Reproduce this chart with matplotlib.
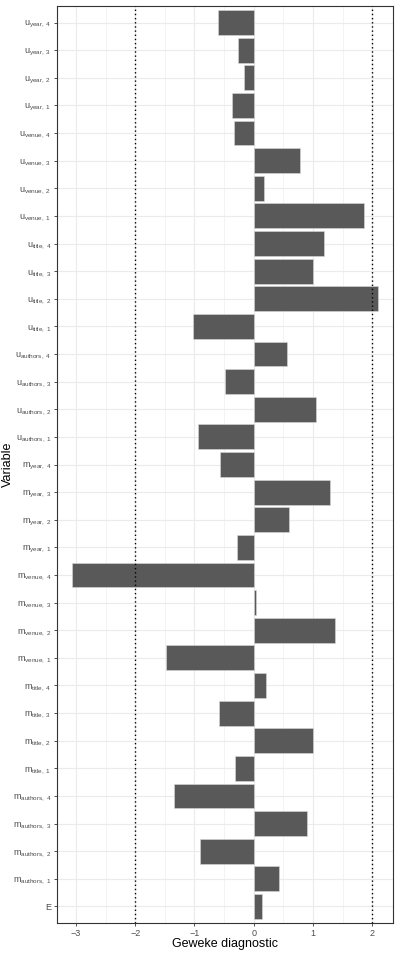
import matplotlib
matplotlib.use('Agg')
import matplotlib.pyplot as plt
import numpy as np

plt.rcParams['font.family'] = ['Liberation Sans', 'DejaVu Sans']
plt.rcParams['mathtext.fontset'] = 'custom'
plt.rcParams['mathtext.rm'] = 'Liberation Sans'
plt.rcParams['mathtext.it'] = 'Liberation Sans'

# bottom to top
variables = ['E',
             'm_authors,1', 'm_authors,2', 'm_authors,3', 'm_authors,4',
             'm_title,1', 'm_title,2', 'm_title,3', 'm_title,4',
             'm_venue,1', 'm_venue,2', 'm_venue,3', 'm_venue,4',
             'm_year,1', 'm_year,2', 'm_year,3', 'm_year,4',
             'u_authors,1', 'u_authors,2', 'u_authors,3', 'u_authors,4',
             'u_title,1', 'u_title,2', 'u_title,3', 'u_title,4',
             'u_venue,1', 'u_venue,2', 'u_venue,3', 'u_venue,4',
             'u_year,1', 'u_year,2', 'u_year,3', 'u_year,4']
geweke = [0.145,
          0.43, -0.90, 0.90, -1.35,
          -0.32, 1.00, -0.59, 0.20,
          -1.48, 1.37, 0.03, -3.06,
          -0.28, 0.60, 1.29, -0.57,
          -0.94, 1.05, -0.48, 0.56,
          -1.02, 2.10, 1.00, 1.19,
          1.86, 0.17, 0.78, -0.33,
          -0.37, -0.17, -0.27, -0.60]


def fmt(v):
    if '_' not in v:
        return v
    base, sub = v.split('_')
    name, idx = sub.split(',')
    return r'$\mathregular{%s_{%s,\ %s}}$' % (base, name, idx)


fig = plt.figure(figsize=(3.99, 9.56), dpi=100)
ax = fig.add_axes([57 / 399, 1 - 923 / 956, 336 / 399, 917 / 956])

y = np.arange(len(variables))
ax.barh(y, geweke, height=0.9, color='#595959', edgecolor='#d9d9d9', linewidth=0.4, zorder=3)
ax.axvline(-2, color='black', linestyle=(0, (1, 2)), linewidth=1.0, zorder=4)
ax.axvline(2, color='black', linestyle=(0, (1, 2)), linewidth=1.0, zorder=4)

ax.set_xticks([-3, -2, -1, 0, 1, 2])
ax.set_xticklabels(['\u22123', '\u22122', '\u22121', '0', '1', '2'])
ax.set_xticks(np.arange(-2.5, 2.0, 1), minor=True)
ax.set_yticks(y)
ax.set_yticklabels([fmt(v) for v in variables])
ax.set_xlim(-3.32, 2.35)
ax.set_ylim(-0.6, len(variables) - 0.4)

ax.grid(True, which='major', color='#ebebeb', linewidth=0.8, zorder=0)
ax.grid(True, which='minor', axis='x', color='#ebebeb', linewidth=0.4, zorder=0)
ax.set_axisbelow(True)
ax.tick_params(which='minor', length=0)
ax.tick_params(which='major', length=2.5, width=0.6, color='#333333',
               labelsize=6.5, labelcolor='#4d4d4d', pad=1.5)
for s in ax.spines.values():
    s.set_color('#333333')
    s.set_linewidth(0.8)

ax.set_xlabel('Geweke diagnostic', fontsize=9)
ax.set_ylabel('Variable', fontsize=9)
ax.yaxis.set_label_coords(-0.128, 0.5)
ax.xaxis.set_label_coords(0.5, -0.0165)

fig.savefig('out.png', dpi=100)
